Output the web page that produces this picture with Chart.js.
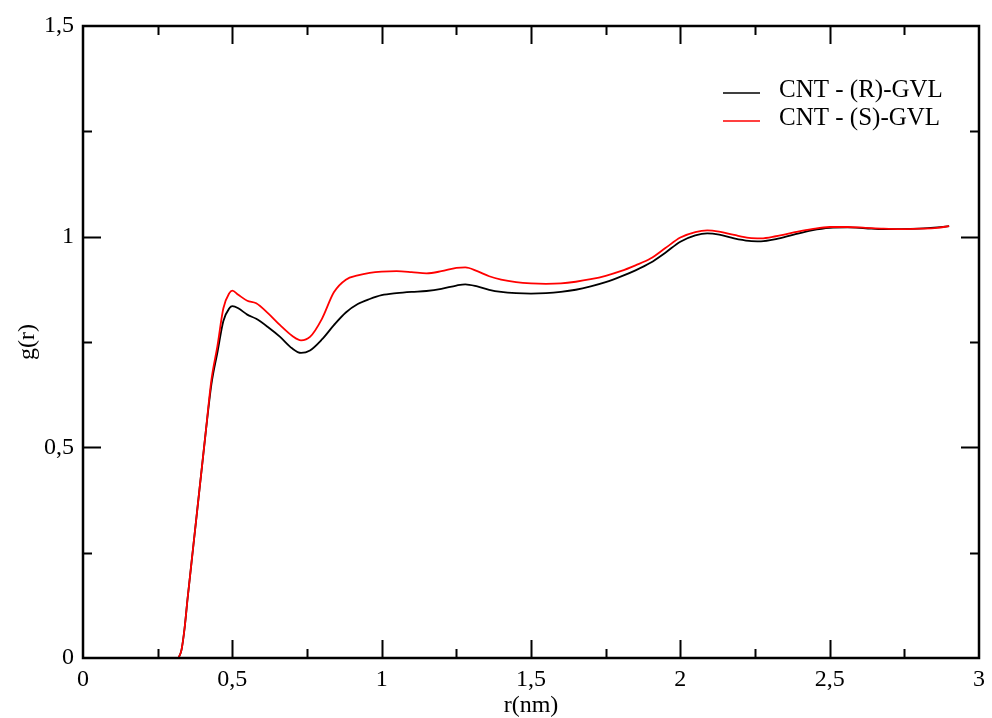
<!DOCTYPE html>
<html>
<head>
<meta charset="utf-8">
<title>g(r) CNT - GVL</title>
<script src="https://cdn.jsdelivr.net/npm/chart.js@4.4.1/dist/chart.umd.min.js"></script>
<style>
  html, body { margin: 0; padding: 0; background: #fff; }
  #wrap { position: relative; width: 992px; height: 718px; }
</style>
</head>
<body>
<div id="wrap"><canvas id="rdf"></canvas></div>
<script>
// radial distance r (nm)
const rValues = [
  0.32, 0.33, 0.34, 0.35, 0.37, 0.39, 0.41, 0.43, 0.45, 0.47,
  0.49, 0.50, 0.52, 0.55, 0.58, 0.62, 0.66, 0.70, 0.73, 0.76,
  0.80, 0.84, 0.88, 0.92, 0.96, 1.00, 1.05, 1.10, 1.15, 1.20,
  1.25, 1.28, 1.32, 1.36, 1.40, 1.45, 1.50, 1.55, 1.60, 1.65,
  1.70, 1.75, 1.80, 1.85, 1.90, 1.95, 2.00, 2.05, 2.09, 2.13,
  2.18, 2.23, 2.27, 2.32, 2.38, 2.44, 2.50, 2.56, 2.62, 2.68,
  2.74, 2.80, 2.86, 2.90
];
// g(r) for CNT - (R)-GVL
const gR = [
  0.000, 0.020, 0.070, 0.140, 0.270, 0.400, 0.530, 0.650, 0.725, 0.800,
  0.830, 0.835, 0.830, 0.815, 0.805, 0.785, 0.762, 0.735, 0.724, 0.730,
  0.756, 0.790, 0.820, 0.840, 0.852, 0.861, 0.866, 0.869, 0.871, 0.876,
  0.884, 0.887, 0.882, 0.874, 0.869, 0.866, 0.865, 0.866, 0.869, 0.874,
  0.882, 0.892, 0.905, 0.920, 0.938, 0.962, 0.988, 1.003, 1.008, 1.005,
  0.996, 0.990, 0.989, 0.994, 1.005, 1.015, 1.021, 1.022, 1.020, 1.018,
  1.018, 1.019, 1.022, 1.025
];
// g(r) for CNT - (S)-GVL
const gS = [
  0.000, 0.020, 0.070, 0.140, 0.270, 0.400, 0.530, 0.660, 0.740, 0.830,
  0.866, 0.872, 0.862, 0.848, 0.842, 0.818, 0.790, 0.765, 0.754, 0.762,
  0.805, 0.868, 0.898, 0.908, 0.914, 0.917, 0.918, 0.916, 0.913, 0.918,
  0.926, 0.927, 0.918, 0.906, 0.898, 0.892, 0.889, 0.888, 0.889, 0.893,
  0.899, 0.907, 0.918, 0.932, 0.948, 0.973, 0.998, 1.011, 1.015, 1.012,
  1.004, 0.997, 0.996, 1.001, 1.010, 1.018, 1.023, 1.023, 1.021, 1.019,
  1.018, 1.019, 1.021, 1.025
];
const seriesLabels = ['CNT - (R)-GVL', 'CNT - (S)-GVL'];
const seriesColors = ['#000000', '#ff0000'];
const xTickLabels = ['0', '0,5', '1', '1,5', '2', '2,5', '3'];
const yTickLabels = ['0', '0,5', '1', '1,5'];

const FONT = 'Liberation Serif, Times New Roman, serif';

function toPoints(ys) {
  return rValues.map((r, i) => ({ x: r, y: ys[i] }));
}

// frame on all four sides with inward major/minor ticks
const framePlugin = {
  id: 'frame',
  afterDatasetsDraw(chart) {
    const { ctx, chartArea: a, scales: { x, y } } = chart;
    ctx.save();
    ctx.strokeStyle = '#000';
    ctx.lineWidth = 2;
    ctx.beginPath();
    for (let v = x.min + 0.25; v < x.max - 1e-6; v += 0.25) {
      const px = Math.round(x.getPixelForValue(v)) + 0.5;
      const len = Math.abs(v / 0.5 - Math.round(v / 0.5)) < 1e-6 ? 18 : 9;
      ctx.moveTo(px, a.bottom); ctx.lineTo(px, a.bottom - len);
      ctx.moveTo(px, a.top); ctx.lineTo(px, a.top + len);
    }
    for (let v = y.min + 0.25; v < y.max - 1e-6; v += 0.25) {
      const py = Math.round(y.getPixelForValue(v)) + 0.5;
      const len = Math.abs(v / 0.5 - Math.round(v / 0.5)) < 1e-6 ? 18 : 9;
      ctx.moveTo(a.left, py); ctx.lineTo(a.left + len, py);
      ctx.moveTo(a.right, py); ctx.lineTo(a.right - len, py);
    }
    ctx.stroke();
    ctx.lineWidth = 2.5;
    ctx.strokeRect(a.left, a.top, a.right - a.left, a.bottom - a.top);
    ctx.restore();
  }
};

// legend drawn inside the plot, upper right
const innerLegend = {
  id: 'innerLegend',
  afterDraw(chart) {
    const { ctx } = chart;
    ctx.save();
    ctx.font = '25px ' + FONT;
    ctx.textBaseline = 'alphabetic';
    ctx.textAlign = 'left';
    chart.data.datasets.forEach((ds, i) => {
      const yLine = 93 + i * 28;
      ctx.strokeStyle = ds.borderColor;
      ctx.lineWidth = 1.6;
      ctx.beginPath();
      ctx.moveTo(723, yLine);
      ctx.lineTo(760, yLine);
      ctx.stroke();
      ctx.fillStyle = '#000';
      ctx.fillText(ds.label, 779, 97 + i * 28);
    });
    ctx.restore();
  }
};

new Chart(document.getElementById('rdf'), {
  type: 'line',
  data: {
    datasets: [
      { label: seriesLabels[0], data: toPoints(gR), borderColor: seriesColors[0], order: 1 },
      { label: seriesLabels[1], data: toPoints(gS), borderColor: seriesColors[1], order: 0 }
    ]
  },
  options: {
    responsive: true,
    maintainAspectRatio: false,
    animation: false,
    parsing: false,
    layout: { padding: { top: 26, right: 6, left: 0, bottom: 0 } },
    elements: {
      point: { radius: 0 },
      line: { borderWidth: 1.8, cubicInterpolationMode: 'monotone', fill: false }
    },
    plugins: { legend: { display: false }, tooltip: { enabled: false } },
    scales: {
      x: {
        type: 'linear',
        min: 0, max: 3,
        afterFit(s) { s.height = 60; },
        grid: { display: false, drawTicks: false },
        border: { display: false },
        ticks: {
          stepSize: 0.5,
          padding: 7,
          color: '#000',
          font: { family: FONT, size: 24 },
          maxRotation: 0,
          callback: (v) => xTickLabels[Math.round(v / 0.5)]
        },
        title: {
          display: true, text: 'r(nm)', color: '#000',
          font: { family: FONT, size: 24 },
          padding: { top: 0, bottom: -2 }
        }
      },
      y: {
        type: 'linear',
        min: 0, max: 1.5,
        afterFit(s) { s.width = 83; },
        grid: { display: false, drawTicks: false },
        border: { display: false },
        ticks: {
          stepSize: 0.5,
          padding: 9,
          color: '#000',
          font: { family: FONT, size: 24 },
          callback: (v) => yTickLabels[Math.round(v / 0.5)]
        },
        title: {
          display: true, text: 'g(r)', color: '#000',
          font: { family: FONT, size: 24 },
          padding: { top: 13, bottom: 0 }
        }
      }
    }
  },
  plugins: [framePlugin, innerLegend]
});
</script>
</body>
</html>
